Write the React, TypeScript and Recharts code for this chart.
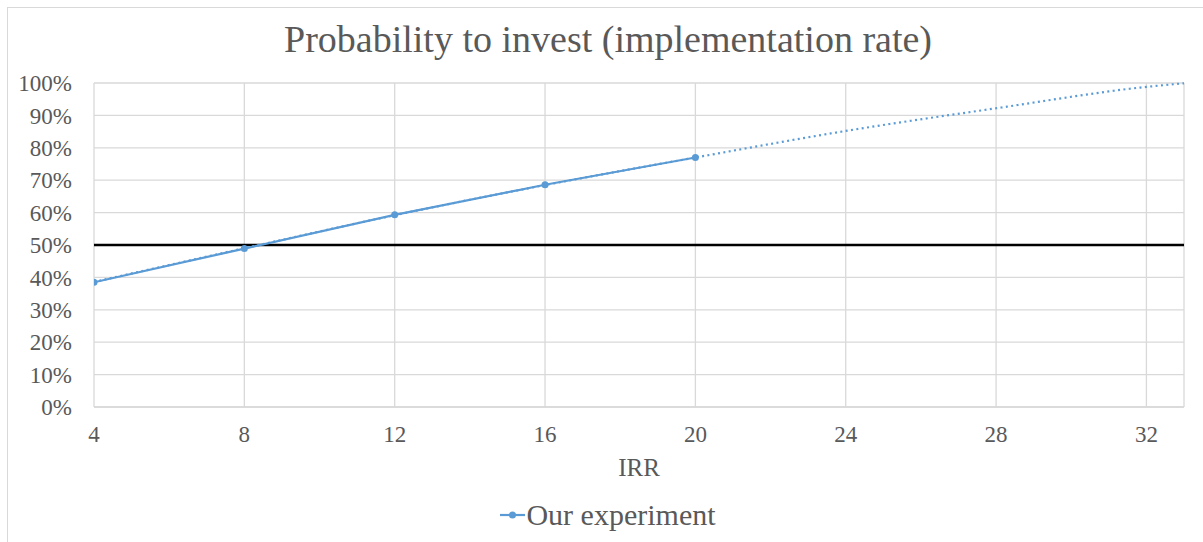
import React from 'react';
import { LineChart, Line, XAxis, YAxis, CartesianGrid, ReferenceLine } from 'recharts';

// measured experiment points (IRR -> implementation rate in %)
const experimentIrr = [4, 8, 12, 16, 20];
const experimentRate = [38.5, 48.9, 59.3, 68.6, 77.0];

// dotted trendline
const trendIrr = [4, 8, 12, 16, 20, 24, 28, 32, 33];
const trendRate = [38.6, 49.0, 59.2, 68.5, 77.0, 85.2, 92.2, 98.8, 99.9];

const xTicks = [4, 8, 12, 16, 20, 24, 28, 32];
const yTicks = [0, 10, 20, 30, 40, 50, 60, 70, 80, 90, 100];
const threshold = 50;

const BLUE = '#5b9bd5';
const TEXT = '#595959';
const FONT = 'Liberation Serif';

const experimentData = experimentIrr.map((irr, i) => ({ irr, rate: experimentRate[i] }));
const trendData = trendIrr.map((irr, i) => ({ irr, rate: trendRate[i] }));

const App: React.FC = () => {
  return (
    <div
      style={{
        position: 'fixed',
        left: 7,
        top: 7,
        width: 1200,
        height: 540,
        border: '1px solid #d9d9d9',
        background: '#fff',
        fontFamily: FONT,
      }}
    >
      <div
        style={{
          position: 'absolute',
          top: 9,
          left: 0,
          width: 1200,
          textAlign: 'center',
          fontSize: 38,
          lineHeight: '44px',
          color: TEXT,
          fontFamily: FONT,
        }}
      >
        Probability to invest (implementation rate)
      </div>
      <LineChart
        width={1200}
        height={476}
        margin={{ top: 75, right: 24, bottom: 0, left: 0 }}
        style={{ position: 'absolute', left: 0, top: 0 }}
      >
        <CartesianGrid stroke="#d9d9d9" strokeWidth={1.3} />
        <XAxis
          dataKey="irr"
          type="number"
          domain={[4, 33]}
          ticks={xTicks}
          allowDataOverflow
          axisLine={{ stroke: '#d9d9d9', strokeWidth: 1.3 }}
          tickLine={false}
          tickMargin={13}
          height={77}
          tick={{ fill: TEXT, fontSize: 23, fontFamily: FONT }}
          label={{ value: 'IRR', position: 'insideBottom', offset: 8, fill: TEXT, fontSize: 25, fontFamily: FONT }}
        />
        <YAxis
          type="number"
          domain={[0, 100]}
          ticks={yTicks}
          width={86}
          axisLine={false}
          tickLine={false}
          tickMargin={16}
          tickFormatter={(v: number) => `${v}%`}
          tick={{ fill: TEXT, fontSize: 23, fontFamily: FONT }}
        />
        <ReferenceLine y={threshold} stroke="#000" strokeWidth={2.5} />
        <Line
          data={trendData}
          dataKey="rate"
          type="monotone"
          stroke={BLUE}
          strokeWidth={2.2}
          strokeDasharray="2 3.4"
          dot={false}
          activeDot={false}
          isAnimationActive={false}
        />
        <Line
          data={experimentData}
          dataKey="rate"
          type="linear"
          stroke={BLUE}
          strokeWidth={2.2}
          dot={{ r: 3.5, fill: BLUE, stroke: BLUE, strokeWidth: 0 }}
          activeDot={false}
          isAnimationActive={false}
        />
      </LineChart>
      <div
        style={{
          position: 'absolute',
          top: 490,
          left: 0,
          width: 1200,
          display: 'flex',
          justifyContent: 'center',
          alignItems: 'center',
          color: TEXT,
          fontSize: 30,
          fontFamily: FONT,
        }}
      >
        <svg width={25} height={10} style={{ marginRight: 1 }}>
          <line x1={0} y1={5} x2={25} y2={5} stroke={BLUE} strokeWidth={2.2} />
          <circle cx={12.5} cy={5} r={3.5} fill={BLUE} />
        </svg>
        <span>Our experiment</span>
      </div>
    </div>
  );
};

export default App;
